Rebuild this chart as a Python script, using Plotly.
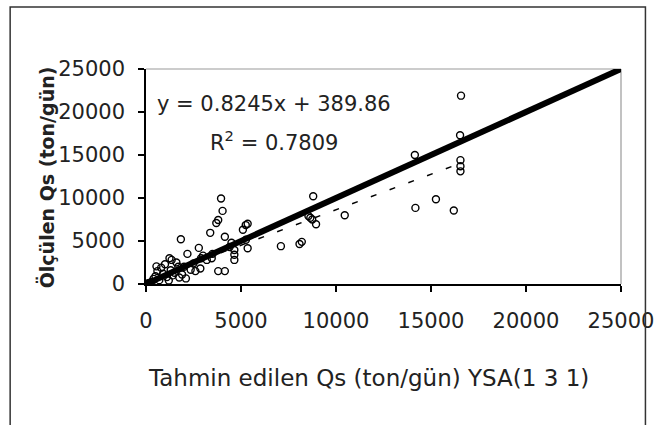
import plotly.graph_objects as go

# ---- data ----
predicted = [16580, 16530, 16550, 16550, 16550, 14150, 14180, 15260, 16200, 10460,
             8800, 8950, 8650, 8550, 8750, 7100, 8080, 8200,
             3950, 4030, 3800, 3700, 3380, 1835, 5350, 5250, 5100, 5350, 4650, 4650,
             4650, 2780, 3460, 3800, 4150, 2180, 2860, 2350, 1750, 2100, 1235, 1350,
             550, 4150, 4400, 5260, 3500,
             300, 500, 700, 900, 1100, 1300, 1500, 800, 600, 200, 1000, 1600, 1200,
             400, 1900, 2500, 2900, 2000, 3200, 1700, 2600, 100, 1400, 3000, 4500]
observed = [21900, 17300, 14400, 13700, 13100, 15000, 8850, 9850, 8550, 8000,
            10200, 6950, 7700, 7900, 7500, 4400, 4650, 4900,
            9950, 8500, 7450, 7100, 5950, 5200, 7000, 6850, 6300, 4150, 3950, 3400,
            2800, 4200, 3000, 1500, 1500, 3500, 1800, 1650, 750, 650, 3000, 2800,
            2050, 5500, 4300, 5150, 3500,
            250, 900, 450, 1200, 800, 1600, 1300, 1900, 1500, 100, 2300, 2500, 400,
            600, 1100, 2400, 3000, 2000, 2800, 2000, 1500, 50, 1000, 3300, 4800]

slope = 0.8245
intercept = 389.86
r_squared = 0.7809
trend_x = [0, 16580]
ideal_xy = [0, 25000]
tick_vals = [0, 5000, 10000, 15000, 20000, 25000]
tick_text = ["0", "5000", "10000", "15000", "20000", "25000"]

x_title = "Tahmin edilen Qs (ton/gün) YSA(1 3 1)"
y_title = "Ölçülen Qs (ton/gün)"

# ---- layout geometry (pixels) ----
W, H = 666, 425
L, R, T, B = 146, 632, 69, 284


def px(x):
    return (x - L) / (R - L)


def py(y):
    return (B - y) / (B - T)


FONT = "DejaVu Sans"

fig = go.Figure()

fig.add_trace(go.Scatter(
    x=trend_x, y=[slope * v + intercept for v in trend_x], mode="lines",
    line=dict(color="black", width=1.5, dash="6px,14px"), showlegend=False,
    hoverinfo="skip"))

fig.add_trace(go.Scatter(
    x=ideal_xy, y=ideal_xy, mode="lines",
    line=dict(color="black", width=6), showlegend=False, hoverinfo="skip"))

fig.add_trace(go.Scatter(
    x=predicted, y=observed, mode="markers",
    marker=dict(symbol="circle-open", size=7, color="black",
                line=dict(width=1.4, color="black")),
    showlegend=False))

axis_common = dict(
    range=[0, 25000], tickmode="array", tickvals=tick_vals, ticktext=tick_text,
    showgrid=False, zeroline=False, showline=True, linecolor="black", linewidth=1.5,
    ticks="outside", ticklen=6, tickwidth=1.5, tickcolor="black",
    tickfont=dict(family=FONT, size=21, color="#222"),
)

fig.update_xaxes(**axis_common, ticklabelstandoff=11)
fig.update_yaxes(**axis_common, ticklabelstandoff=9)

shapes = [
    # top and right plot border (grey)
    dict(type="line", xref="paper", yref="paper", x0=0, y0=1, x1=1, y1=1,
         line=dict(color="#999999", width=1.2), layer="below"),
    dict(type="line", xref="paper", yref="paper", x0=1, y0=0, x1=1, y1=1,
         line=dict(color="#999999", width=1.2), layer="below"),
    # outer frame
    dict(type="rect", xref="paper", yref="paper", x0=px(7), y0=py(440), x1=px(657), y1=py(7),
         line=dict(color="#333333", width=1.5)),
]

annotations = [
    dict(text=x_title, xref="paper", yref="paper", x=px(374), y=py(378),
         xanchor="center", yanchor="middle", showarrow=False,
         font=dict(family=FONT, size=23, color="#222")),
    dict(text="<b>" + y_title + "</b>", xref="paper", yref="paper", x=px(44), y=py(177),
         xanchor="center", yanchor="middle", showarrow=False, textangle=-90,
         font=dict(family=FONT, size=19, color="#222")),
    dict(text=f"y = {slope}x + {intercept}", xref="paper", yref="paper",
         x=px(277), y=py(104), xanchor="center", yanchor="middle", showarrow=False,
         font=dict(family=FONT, size=21, color="#222")),
    dict(text=f"R<sup>2</sup> = {r_squared}", xref="paper", yref="paper",
         x=px(277), y=py(141), xanchor="center", yanchor="middle", showarrow=False,
         font=dict(family=FONT, size=21, color="#222")),
]

fig.update_layout(
    width=W, height=H,
    margin=dict(l=L, r=W - R, t=T, b=H - B),
    paper_bgcolor="white", plot_bgcolor="white",
    shapes=shapes, annotations=annotations,
    showlegend=False,
)

fig.write_html("out.html", config={"displayModeBar": False})
